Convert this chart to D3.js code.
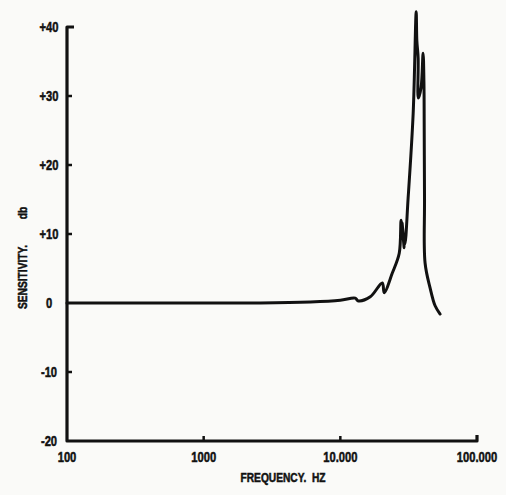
<!DOCTYPE html>
<html><head><meta charset="utf-8">
<script src="https://cdn.jsdelivr.net/npm/d3@7"></script>
<style>
body{margin:0;background:#fafaf8;}
svg{display:block;}
text{font-family:"Liberation Sans",Arial,sans-serif;font-weight:bold;fill:#111;stroke:#111;stroke-width:0.5px;}
</style></head>
<body>
<script>
const xTicks = [100, 1000, 10000, 100000];
const xTickLabels = ["100", "1000", "10.000", "100.000"];
const yTicks = [-20, -10, 0, 10, 20, 30, 40];
const yTickLabels = ["-20", "-10", "0", "+10", "+20", "+30", "+40"];
const freq = [100, 1000, 2600, 6040, 10000, 12860, 13520, 16560, 20270, 20950, 23970, 26980, 27880, 29300, 28300, 29600, 31330, 34120, 35890, 36300, 37100, 37200, 38960, 40330, 40900, 41010, 41300, 41690, 45360, 49370, 53720];
const sens = [0, 0, 0, 0.15, 0.4, 0.7, 0.3, 0.9, 2.9, 1.5, 4.3, 7.2, 12.0, 8.0, 11.6, 8.5, 15.2, 27.5, 42.2, 38, 35.5, 29.7, 31.2, 36.2, 32, 29.7, 15.2, 5.8, 2.2, -0.4, -1.6];

const W = 506, H = 495;
const svg = d3.select("body").append("svg").attr("width", W).attr("height", H);
const x = d3.scaleLog().domain([100, 100000]).range([67, 477]);
const y = d3.scaleLinear().domain([-20, 40]).range([441, 27]);

const g = svg.append("g");
g.append("path").attr("d", `M${x(100)+7},${y(40)}H${x(100)}V${y(-20)}H${x(100000)}V${y(-20)-6}`)
  .attr("fill","none").attr("stroke","#111").attr("stroke-width",3.2).attr("stroke-linejoin","round");

g.selectAll(".yt").data(yTicks.filter(d=>d>-20 && d<40 && d!==0)).enter().append("line")
  .attr("x1", x(100)).attr("x2", x(100)+5).attr("y1", d=>y(d)).attr("y2", d=>y(d))
  .attr("stroke","#111").attr("stroke-width",2.5);
g.selectAll(".xt").data(xTicks.slice(1,3)).enter().append("line")
  .attr("x1", d=>x(d)).attr("x2", d=>x(d)).attr("y1", y(-20)).attr("y2", y(-20)-5)
  .attr("stroke","#111").attr("stroke-width",2.5);

const sx = 0.8;
g.selectAll(".yl").data(yTicks).enter().append("text")
  .attr("transform", d=>`translate(49,${y(d)+5}) scale(${sx},1)`).attr("text-anchor","middle")
  .attr("font-size",14).text((d,i)=>yTickLabels[i]);
g.selectAll(".xl").data(xTicks).enter().append("text")
  .attr("transform", d=>`translate(${x(d)},462) scale(${sx},1)`).attr("text-anchor","middle")
  .attr("font-size",14).text((d,i)=>xTickLabels[i]);

svg.append("text").attr("transform","translate(283,482) scale(0.85,1)").attr("text-anchor","middle").attr("font-size",12).attr("xml:space","preserve").text("FREQUENCY.  HZ");
svg.append("text").attr("transform","translate(27,277) rotate(-90) scale(0.85,1)").attr("text-anchor","middle").attr("font-size",12).text("SENSITIVITY.");
svg.append("text").attr("transform","translate(27,213) rotate(-90) scale(0.85,1)").attr("text-anchor","middle").attr("font-size",12).text("db");

const pts = freq.map((f,i)=>[f, sens[i]]);
svg.append("path").datum(pts)
  .attr("d", d3.line().x(d=>x(d[0])).y(d=>y(d[1])).curve(d3.curveCatmullRom.alpha(0.5)))
  .attr("fill","none").attr("stroke","#111").attr("stroke-width",3).attr("stroke-linejoin","round").attr("stroke-linecap","round");
</script>
</body></html>
